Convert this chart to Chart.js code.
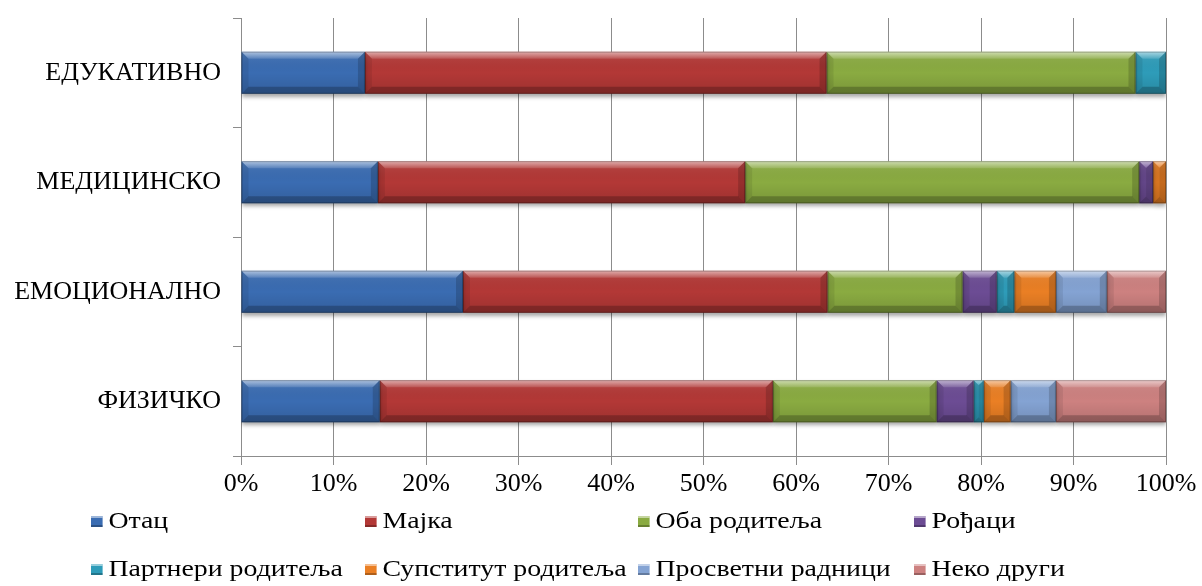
<!DOCTYPE html>
<html>
<head>
<meta charset="utf-8">
<script src="https://cdn.jsdelivr.net/npm/chart.js@4/dist/chart.umd.min.js"></script>
<style>
  html, body { margin: 0; padding: 0; background: #fff; }
  #wrap { position: relative; width: 1202px; height: 586px; }
  #chart { position: absolute; left: 0; top: 0; }
  .legend-item { position: absolute; font-family: "Liberation Serif", "Times New Roman", serif; font-size: 24px; color: #000; white-space: nowrap; line-height: 26px; transform: scaleX(1.16); transform-origin: left center; }
  .legend-item i { display: inline-block; width: 10px; height: 11px; margin-right: 5px; vertical-align: 1px; }
</style>
</head>
<body>
<div id="wrap">
  <canvas id="chart" width="1202" height="586"></canvas>
  <div id="legend"></div>
</div>
<script>
const categories = ['ЕДУКАТИВНО', 'МЕДИЦИНСКО', 'ЕМОЦИОНАЛНО', 'ФИЗИЧКО'];
const seriesNames = ['Отац', 'Мајка', 'Оба родитеља', 'Рођаци', 'Партнери родитеља', 'Супститут  родитеља', 'Просветни радници', 'Неко други'];
const seriesColors = ['#3a6cb2', '#b33836', '#8aab41', '#6c4c94', '#2e9cb9', '#ea7f24', '#84a3d3', '#cd8180'];

// percent per category, same order as categories
const otac = [13.4, 14.8, 24.0, 15.0];
const majka = [49.9, 39.7, 39.4, 42.5];
const obaRoditelja = [33.4, 42.6, 14.6, 17.7];
const rodjaci = [0, 1.5, 3.7, 4.0];
const partneri = [3.3, 0, 1.9, 1.1];
const supstitut = [0, 1.4, 4.5, 2.9];
const prosvetni = [0, 0, 5.5, 4.9];
const nekoDrugi = [0, 0, 6.4, 11.9];

const seriesValues = [otac, majka, obaRoditelja, rodjaci, partneri, supstitut, prosvetni, nekoDrugi];
const xTicks = [0, 10, 20, 30, 40, 50, 60, 70, 80, 90, 100];

const fontFamily = '"Liberation Serif", "Times New Roman", serif';

// excel style bevel drawn over each bar
const bevelPlugin = {
  id: 'bevel',
  beforeDatasetsDraw(chart) {
    const ctx = chart.ctx;
    ctx.save();
    ctx.shadowColor = 'rgba(0,0,0,0.35)';
    ctx.shadowBlur = 4;
    ctx.shadowOffsetY = 3;
  },
  afterDatasetsDraw(chart) {
    const ctx = chart.ctx;
    ctx.restore();
    chart.data.datasets.forEach((ds, i) => {
      const meta = chart.getDatasetMeta(i);
      meta.data.forEach((bar) => {
        const { x, y, base, height } = bar.getProps(['x', 'y', 'base', 'height'], true);
        const left = Math.min(x, base);
        const right = Math.max(x, base);
        const w = right - left;
        if (w < 0.5) return;
        const top = y - height / 2;
        const bottom = y + height / 2;
        const b = Math.min(7, w / 2);

        ctx.save();
        // body shading
        const g = ctx.createLinearGradient(0, top, 0, bottom);
        g.addColorStop(0, 'rgba(255,255,255,0.10)');
        g.addColorStop(0.5, 'rgba(0,0,0,0)');
        g.addColorStop(1, 'rgba(0,0,0,0.12)');
        ctx.fillStyle = g;
        ctx.fillRect(left, top, w, height);

        // top bevel
        const gt = ctx.createLinearGradient(0, top, 0, top + b);
        gt.addColorStop(0, 'rgba(255,255,255,0.55)');
        gt.addColorStop(1, 'rgba(255,255,255,0.12)');
        ctx.fillStyle = gt;
        ctx.beginPath();
        ctx.moveTo(left, top);
        ctx.lineTo(right, top);
        ctx.lineTo(right - b, top + b);
        ctx.lineTo(left + b, top + b);
        ctx.closePath();
        ctx.fill();

        // bottom bevel
        ctx.fillStyle = 'rgba(0,0,0,0.22)';
        ctx.beginPath();
        ctx.moveTo(left, bottom);
        ctx.lineTo(right, bottom);
        ctx.lineTo(right - b, bottom - b);
        ctx.lineTo(left + b, bottom - b);
        ctx.closePath();
        ctx.fill();

        // left bevel
        ctx.fillStyle = 'rgba(0,0,0,0.08)';
        ctx.beginPath();
        ctx.moveTo(left, top);
        ctx.lineTo(left + b, top + b);
        ctx.lineTo(left + b, bottom - b);
        ctx.lineTo(left, bottom);
        ctx.closePath();
        ctx.fill();

        // right bevel
        ctx.fillStyle = 'rgba(0,0,0,0.16)';
        ctx.beginPath();
        ctx.moveTo(right, top);
        ctx.lineTo(right - b, top + b);
        ctx.lineTo(right - b, bottom - b);
        ctx.lineTo(right, bottom);
        ctx.closePath();
        ctx.fill();

        ctx.strokeStyle = 'rgba(0,0,0,0.25)';
        ctx.lineWidth = 1;
        ctx.strokeRect(left + 0.5, top + 0.5, w - 1, height - 1);
        ctx.restore();
      });
    });
  },
};

const datasets = seriesNames.map((name, i) => ({
  label: name,
  data: seriesValues[i],
  backgroundColor: seriesColors[i],
  borderWidth: 0,
  barPercentage: 0.385,
  categoryPercentage: 1,
}));

const chart = new Chart(document.querySelector('#chart'), {
  type: 'bar',
  data: { labels: categories, datasets },
  plugins: [bevelPlugin],
  options: {
    indexAxis: 'y',
    responsive: false,
    animation: false,
    layout: { padding: { top: 18, right: 36, left: 0, bottom: 0 } },
    plugins: {
      legend: { display: false },
      tooltip: { enabled: false },
    },
    scales: {
      x: {
        stacked: true,
        min: 0,
        max: 100,
        afterBuildTicks(scale) {
          scale.ticks = xTicks.map((v) => ({ value: v }));
        },
        afterFit(scale) {
          scale.height = 130;
        },
        ticks: {
          callback: (v) => v + '%',
          color: '#000',
          font: { family: fontFamily, size: 26 },
          padding: 4,
          maxRotation: 0,
        },
        grid: { color: '#8c8c8c', lineWidth: 1, tickLength: 9, drawTicks: true },
        border: { color: '#8c8c8c', width: 1 },
      },
      y: {
        stacked: true,
        afterFit(scale) {
          scale.width = 241;
          scale.paddingTop = 0;
          scale.paddingBottom = 0;
        },
        ticks: {
          color: '#000',
          font: { family: fontFamily, size: 26 },
          padding: 12,
        },
        grid: { drawOnChartArea: false, drawTicks: true, tickLength: 8, color: '#8c8c8c', offset: true },
        border: { color: '#8c8c8c', width: 1 },
      },
    },
  },
});

// legend laid out in two rows of four like the original
const legendEl = document.querySelector('#legend');
const legendCols = [91, 365, 638, 914];
const legendRows = [507, 555];
seriesNames.forEach((name, i) => {
  const item = document.createElement('div');
  item.className = 'legend-item';
  item.style.left = legendCols[i % 4] + 'px';
  item.style.top = legendRows[Math.floor(i / 4)] + 'px';
  const c = seriesColors[i];
  item.innerHTML = `<i style="background: ${c}; box-shadow: inset 0 2px 0 rgba(255,255,255,0.5), inset 0 -2px 0 rgba(0,0,0,0.25);"></i>${name}`;
  legendEl.appendChild(item);
});
</script>
</body>
</html>
